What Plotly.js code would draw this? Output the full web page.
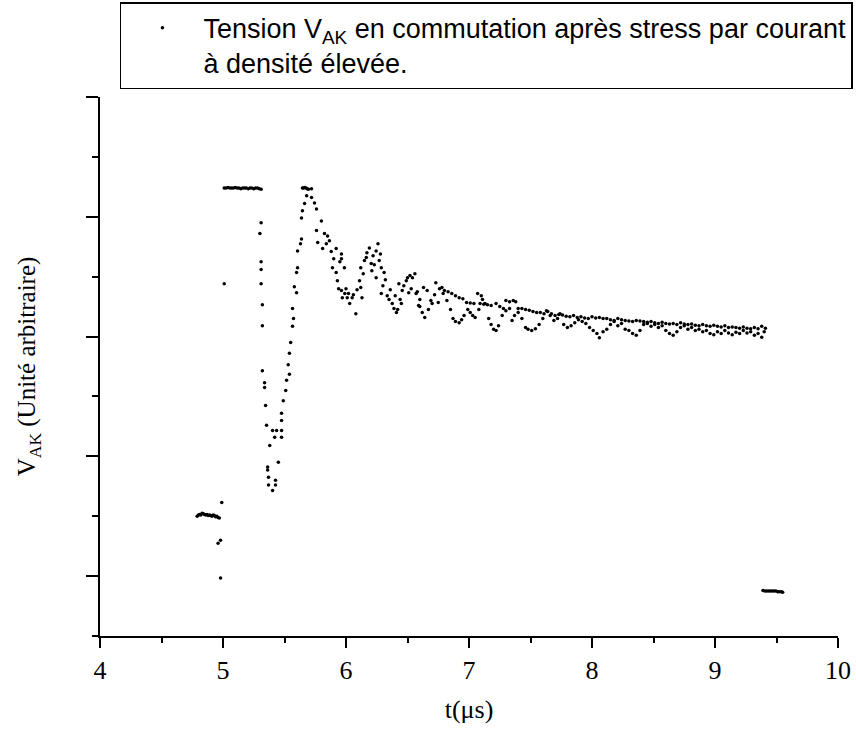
<!DOCTYPE html>
<html>
<head>
<meta charset="utf-8">
<script src="https://cdn.plot.ly/plotly-3.0.1.min.js"></script>
<style>
html,body{margin:0;padding:0;background:#fff;}
#chart{width:856px;height:749px;}
</style>
</head>
<body>
<div id="chart"></div>
<script>
// ---- data (t in µs, V_AK in arbitrary units) ----
var tPre = [4.79,4.80,4.81,4.82,4.83,4.84,4.85,4.86,4.87,4.88,4.89,4.90,4.91,4.92,4.93,4.94,4.95,4.96,4.97,4.99,4.98,4.96,4.98,5.01];
var vPre = [2.00,2.02,2.03,2.02,2.05,2.04,2.03,2.02,2.03,2.01,2.02,2.01,2.00,2.02,2.01,1.99,2.00,1.98,1.97,2.23,1.60,1.55,0.97,5.88];

var tSat = [5.010,5.025,5.040,5.055,5.070,5.085,5.100,5.115,5.130,5.145,5.160,5.175,5.190,5.205,5.220,5.235,5.250,5.265,5.280,5.295,5.310];
var vSat = [7.48,7.48,7.49,7.48,7.48,7.48,7.49,7.48,7.48,7.47,7.48,7.48,7.48,7.47,7.48,7.48,7.47,7.48,7.48,7.47,7.46];

var tFall = [5.31,5.30,5.31,5.31,5.31,5.32,5.32,5.32,5.338,5.338,5.346,5.354,5.403,5.436,5.476,5.42,5.476,5.38,5.45,5.363,5.363,5.37,5.427,5.37,5.427,5.403,5.476,5.476];
var vFall = [6.90,6.72,6.25,6.12,5.88,5.53,5.18,4.43,4.23,4.15,3.85,3.52,3.43,3.43,3.43,3.32,3.32,3.18,2.90,2.82,2.77,2.65,2.60,2.52,2.52,2.43,3.72,3.60];

var tRise = [5.49,5.51,5.517,5.54,5.53,5.54,5.55,5.565,5.573,5.565,5.598,5.58,5.598,5.606,5.606,5.63,5.638,5.638,5.646,5.663,5.68,
             5.646,5.655,5.665,5.675,5.685,5.695,5.72,5.72,5.744,5.76,5.80,5.76,5.825,5.865,5.77,5.81,5.84,5.85,5.88,5.90,5.92,5.963,
             5.89,5.92,5.963,5.987,5.93,5.94,5.95,5.963,5.97,5.99,6.00,6.01,6.02,6.03,6.05,6.06,6.08,6.09,6.12,6.13,6.11,6.12,6.14,
             6.15,6.165,6.17,6.19,6.205,6.21,6.22,6.23,6.245,6.26,6.27,6.28,6.287,6.245,6.30,6.31,6.32,6.287,6.335,6.35,6.36,6.376,
             6.39,6.40,6.41,6.42,6.44,6.45,6.457,6.43,6.47,6.49,6.50,6.51,6.52,6.53,6.54,6.56,6.57,6.58,6.59];
var vRise = [3.93,4.10,4.27,4.37,4.53,4.72,4.90,5.17,5.30,5.47,5.73,5.83,6.07,6.15,6.43,6.55,6.63,6.98,7.10,7.22,7.35,
             7.48,7.48,7.49,7.48,7.47,7.46,7.47,7.32,7.23,7.13,6.93,6.77,6.72,6.60,6.57,6.47,6.55,6.68,6.42,6.30,6.47,6.38,
             6.15,6.07,6.30,6.15,5.93,5.80,6.25,5.77,5.65,5.72,5.80,5.65,5.72,5.55,5.65,5.70,5.38,5.78,5.82,5.65,5.93,6.15,6.05,
             6.27,6.32,6.40,6.48,6.22,6.10,6.35,6.20,6.43,6.55,6.27,6.38,6.15,5.98,5.85,6.07,5.95,5.72,5.68,5.62,5.78,5.55,
             5.47,5.68,5.40,5.45,5.62,5.55,5.77,5.88,5.85,5.93,5.98,5.73,6.02,5.80,5.98,6.05,5.72,5.75,5.52];

var tUpper = [6.60,6.63,6.66,6.69,6.73,6.75,6.78,6.80,6.83,6.86,6.89,6.92,6.95,6.98,7.01,7.04,7.07,7.09,7.10,7.12,7.15,7.18,7.22,7.25,7.28,
              7.30,7.33,7.36,7.38,7.40,7.43,7.46,7.49,7.52,7.55,7.58,7.61,7.64,7.67,7.70,7.73,7.76,7.79,7.82,7.85,7.88,7.91,7.94,7.97,
              8.00,8.03,8.06,8.09,8.12,8.15,8.18,8.21,8.24,8.27,8.30,8.33,8.36,8.39,8.42,8.45,8.48,8.51,8.54,8.57,8.60,8.63,8.66,8.69,
              8.72,8.75,8.78,8.81,8.84,8.87,8.90,8.93,8.96,8.99,9.02,9.05,9.08,9.11,9.14,9.17,9.20,9.23,9.26,9.29,9.32,9.35,9.38,9.41];
var vUpper = [5.62,5.82,5.77,5.60,5.90,5.57,5.82,5.77,5.75,5.72,5.68,5.65,5.63,5.57,5.56,5.55,5.72,5.55,5.68,5.54,5.53,5.52,5.55,5.50,5.47,
              5.60,5.58,5.60,5.58,5.47,5.47,5.45,5.44,5.42,5.40,5.40,5.38,5.42,5.38,5.35,5.37,5.36,5.34,5.33,5.35,5.32,5.33,5.31,5.30,
              5.33,5.31,5.32,5.30,5.30,5.28,5.27,5.30,5.28,5.27,5.26,5.25,5.27,5.26,5.25,5.24,5.25,5.23,5.22,5.24,5.22,5.21,5.22,5.20,
              5.23,5.21,5.20,5.21,5.19,5.18,5.20,5.18,5.17,5.19,5.17,5.16,5.18,5.15,5.16,5.15,5.14,5.16,5.14,5.13,5.15,5.13,5.17,5.14];

var tLower = [6.60,6.62,6.64,6.67,6.70,6.72,6.76,6.79,6.82,6.85,6.87,6.89,6.92,6.94,6.96,6.99,7.01,7.03,7.05,7.08,7.11,7.13,7.16,7.18,7.20,
              7.22,7.24,7.27,7.30,7.33,7.35,7.37,7.40,7.43,7.46,7.48,7.51,7.54,7.57,7.60,7.63,7.66,7.69,7.72,7.74,7.77,7.80,7.83,7.86,
              7.89,7.92,7.95,7.98,8.01,8.04,8.06,8.09,8.12,8.15,8.18,8.21,8.24,8.27,8.30,8.33,8.36,8.39,8.42,8.45,8.48,8.51,8.54,8.57,
              8.60,8.63,8.66,8.69,8.72,8.75,8.78,8.81,8.84,8.87,8.90,8.93,8.96,8.99,9.02,9.05,9.08,9.11,9.14,9.17,9.20,9.23,9.26,9.29,
              9.32,9.35,9.38,9.40];
var vLower = [5.50,5.40,5.32,5.45,5.55,5.70,5.80,5.72,5.60,5.45,5.30,5.25,5.23,5.28,5.35,5.45,5.40,5.35,5.32,5.45,5.62,5.55,5.30,5.20,5.12,
              5.10,5.18,5.35,5.43,5.47,5.27,5.35,5.40,5.30,5.15,5.12,5.10,5.13,5.20,5.30,5.43,5.35,5.27,5.30,5.38,5.20,5.15,5.18,5.23,
              5.28,5.25,5.22,5.15,5.10,5.05,4.98,5.08,5.12,5.20,5.25,5.18,5.22,5.12,5.10,5.05,5.02,5.10,5.20,5.22,5.17,5.20,5.15,5.18,
              5.10,5.05,5.02,5.08,5.15,5.18,5.12,5.15,5.10,5.12,5.08,5.10,5.05,5.03,5.08,5.05,5.10,5.06,5.03,5.07,5.05,5.10,5.06,5.08,
              5.02,5.05,4.99,5.08];

var tEnd = [9.390,9.405,9.420,9.435,9.450,9.465,9.480,9.495,9.510,9.525,9.540,9.550];
var vEnd = [0.76,0.75,0.75,0.75,0.75,0.75,0.75,0.75,0.74,0.74,0.74,0.73];

var xTickVals = [4,5,6,7,8,9,10];
var xTickText = ['4','5','6','7','8','9','10'];

var legendText = 'Tension V<sub>AK</sub> en commutation après stress par courant<br>à densité élevée.';
var xTitle = 't(μs)';
var yTitle = 'V<sub>AK</sub> (Unité arbitraire)';

// ---- traces ----
var mk = {color:'#000', size:3.5, symbol:'circle', line:{width:0}};
function tr(x, y, show){
  return {x:x, y:y, type:'scatter', mode:'markers', marker:mk,
          name:legendText, showlegend:show, legendgroup:'g', hoverinfo:'skip'};
}
var data = [
  tr(tPre, vPre, true),
  tr(tSat, vSat, false),
  tr(tFall, vFall, false),
  tr(tRise, vRise, false),
  tr(tUpper, vUpper, false),
  tr(tLower, vLower, false),
  tr(tEnd, vEnd, false)
];

var serif = 'Liberation Serif, Times New Roman, serif';
var sans = 'Liberation Sans, Arial, sans-serif';

var layout = {
  width:856, height:749,
  paper_bgcolor:'#fff', plot_bgcolor:'#fff',
  margin:{l:100, r:18, t:97, b:113, autoexpand:false},
  showlegend:true,
  legend:{
    x:0.027, y:1.176, xanchor:'left', yanchor:'top',
    bordercolor:'#000', borderwidth:1.5, bgcolor:'#fff',
    font:{family:sans, size:27, color:'#000'},
    itemwidth:72, valign:'top'
  },
  xaxis:{
    range:[4,10], autorange:false,
    tickmode:'array', tickvals:xTickVals, ticktext:xTickText,
    showline:true, linecolor:'#000', linewidth:2,
    ticks:'outside', ticklen:10, tickwidth:2, tickcolor:'#000',
    minor:{dtick:0.5, tick0:4, ticks:'outside', ticklen:5, tickwidth:2, tickcolor:'#000'},
    showgrid:false, zeroline:false,
    tickfont:{family:serif, size:26, color:'#000'},
    ticklabelstandoff:0,
    title:{text:xTitle, font:{family:serif, size:26, color:'#000'}, standoff:16}
  },
  yaxis:{
    range:[0,9], autorange:false,
    tick0:1, dtick:2,
    showline:true, linecolor:'#000', linewidth:2,
    ticks:'outside', ticklen:12, tickwidth:2, tickcolor:'#000',
    minor:{tick0:0, dtick:1, ticks:'outside', ticklen:6, tickwidth:2, tickcolor:'#000'},
    showticklabels:false,
    showgrid:false, zeroline:false,
    title:{text:yTitle, font:{family:serif, size:25, color:'#000'}, standoff:43}
  }
};

Plotly.newPlot('chart', data, layout, {staticPlot:true, displayModeBar:false});
</script>
</body>
</html>
